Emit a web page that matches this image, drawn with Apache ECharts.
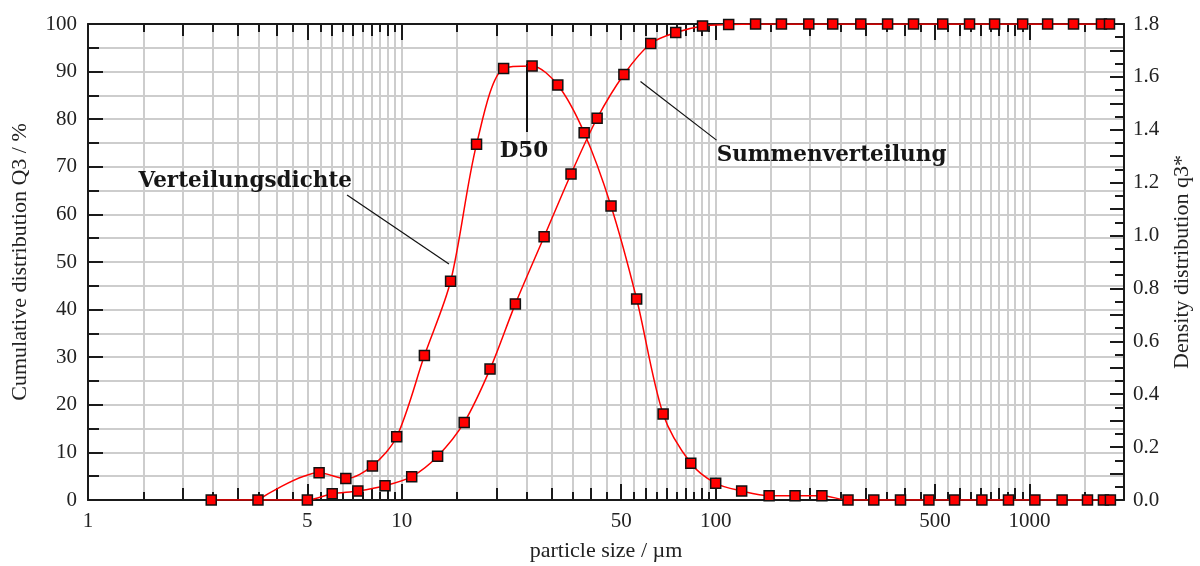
<!DOCTYPE html>
<html>
<head>
<meta charset="utf-8">
<script src="https://cdn.jsdelivr.net/npm/echarts@6/dist/echarts.min.js"></script>
<style>
html,body{margin:0;padding:0;background:#fff;}
#chart{width:1200px;height:566px;}
</style>
</head>
<body>
<div id="chart"></div>
<script>
// ---- data ----
// Cumulative distribution Q3 (%) – "Summenverteilung"
const cumSize = [2.47, 5.0, 6.0, 7.24, 8.84, 10.75, 13.0, 15.8, 19.1, 23.0, 28.4, 34.6, 41.9, 51.0, 62.1, 74.6, 90.8, 110, 134, 162, 198, 236, 290, 353, 427, 529, 644, 774, 951, 1142, 1381, 1695, 1798];
const cumValue = [0, 0, 1.3, 1.9, 3.0, 4.9, 9.2, 16.3, 27.5, 41.2, 55.3, 68.5, 80.2, 89.4, 95.9, 98.2, 99.6, 99.9, 100, 100, 100, 100, 100, 100, 100, 100, 100, 100, 100, 100, 100, 100, 100];
// Density distribution q3* – "Verteilungsdichte"
const densSize = [3.48, 5.45, 6.63, 8.06, 9.63, 11.8, 14.3, 17.3, 21.1, 26.0, 31.4, 38.1, 46.4, 56.0, 68.0, 83.3, 100, 121, 148, 179, 218, 264, 319, 388, 478, 577, 705, 857, 1040, 1270, 1530, 1720, 1810];
const densValue = [0, 0.103, 0.081, 0.129, 0.239, 0.546, 0.827, 1.345, 1.632, 1.641, 1.569, 1.389, 1.112, 0.760, 0.325, 0.139, 0.063, 0.034, 0.016, 0.016, 0.016, 0, 0, 0, 0, 0, 0, 0, 0, 0, 0, 0, 0];

// axis tick values
const xLabelValues = [1, 5, 10, 50, 100, 500, 1000];
const xLongTicks = [1, 5, 10, 50, 100, 500, 1000];
const tickMultipliers = [1, 1.5, 2, 2.5, 3, 3.5, 4, 4.5, 5, 5.5, 6, 6.5, 7, 7.5, 8, 8.5, 9, 9.5];
const tickDecades = [1, 10, 100, 1000];
const xMax = 2000;

// annotations (data coordinates: size, cumulative %)
const annotations = [
  {text: 'Verteilungsdichte', at: [3.17, 67.0]},
  {text: 'D50', at: [24.5, 73.3]},
  {text: 'Summenverteilung', at: [234, 72.3]}
];
const leaderLines = [
  {from: [6.69, 64.1], to: [14.13, 49.6], width: 1.2},
  {from: [25, 91.6], to: [25, 77.3], width: 2},
  {from: [57.6, 87.9], to: [100.6, 75.6], width: 1.2}
];

// ---- build tick sets ----
const allTicks = [], midTicks = [];
tickDecades.forEach(d => tickMultipliers.forEach(m => {
  const v = +(m * d).toPrecision(6);
  if (v <= xMax) {
    allTicks.push(v);
    if (Number.isInteger(m) && m !== 1 && m !== 5) midTicks.push(v);
  }
}));
allTicks.push(xMax);

const serif = 'Liberation Serif';
const gridColor = '#cdcdcd';

function xAxisDef(position, ticks, len, opts) {
  opts = opts || {};
  return {
    type: 'log', logBase: 10, min: 1, max: xMax, position: position,
    axisLine: {show: !!opts.line, lineStyle: {color: '#1a1a1a', width: 2}},
    axisTick: {show: true, inside: true, length: len, customValues: ticks, lineStyle: {color: '#1a1a1a', width: 2}},
    axisLabel: opts.label ? {show: true, customValues: xLabelValues, margin: 11, fontFamily: serif, fontSize: 21, color: '#222',
      formatter: v => String(Math.round(v))} : {show: false},
    splitLine: {show: !!opts.split, lineStyle: {color: gridColor, width: 2}},
    minorTick: {show: false}, minorSplitLine: {show: false},
    name: opts.name || '', nameLocation: 'middle', nameGap: 40,
    nameTextStyle: {fontFamily: serif, fontSize: 22, color: '#222'},
    z: opts.z || 0
  };
}

const chart = echarts.init(document.getElementById('chart'), null, {renderer: 'canvas'});

const sym = {color: '#ff0000', borderColor: '#111', borderWidth: 1.5};

chart.setOption({
  animation: false,
  backgroundColor: '#ffffff',
  grid: {left: 88, right: 76, top: 24, bottom: 66, containLabel: false, outerBoundsMode: 'none'},
  xAxis: [
    xAxisDef('bottom', xLongTicks, 16, {line: true, label: true, name: 'particle size / µm', z: 3}),
    xAxisDef('bottom', allTicks, 8, {split: true}),
    xAxisDef('bottom', midTicks, 12, {}),
    xAxisDef('top', xLongTicks, 16, {line: true}),
    xAxisDef('top', allTicks, 8, {}),
    xAxisDef('top', midTicks, 12, {})
  ],
  yAxis: [
    {
      type: 'value', min: 0, max: 100, interval: 10, position: 'left',
      name: 'Cumulative distribution Q3 / %', nameLocation: 'middle', nameRotate: 90, nameGap: 57,
      nameTextStyle: {fontFamily: serif, fontSize: 22, color: '#222'},
      axisLine: {show: true, lineStyle: {color: '#1a1a1a', width: 2}},
      axisTick: {show: true, inside: true, length: 15, lineStyle: {color: '#1a1a1a', width: 2}},
      minorTick: {show: true, splitNumber: 2, length: 11, lineStyle: {color: '#1a1a1a', width: 2}},
      axisLabel: {margin: 11, fontFamily: serif, fontSize: 21, color: '#222'},
      splitLine: {show: true, lineStyle: {color: gridColor, width: 2}},
      minorSplitLine: {show: true, lineStyle: {color: gridColor, width: 2}}
    },
    {
      type: 'value', min: 0, max: 1.8, interval: 0.1, position: 'right',
      name: 'Density distribution q3*', nameLocation: 'middle', nameRotate: 90, nameGap: 47,
      nameTextStyle: {fontFamily: serif, fontSize: 22, color: '#222'},
      axisLine: {show: true, lineStyle: {color: '#1a1a1a', width: 2}},
      axisTick: {show: true, inside: true, length: 14, lineStyle: {color: '#1a1a1a', width: 2}},
      minorTick: {show: true, splitNumber: 2, length: 9, lineStyle: {color: '#1a1a1a', width: 2}},
      axisLabel: {margin: 9, fontFamily: serif, fontSize: 21, color: '#222',
        formatter: v => (Math.round(v * 10) % 2 === 0 ? v.toFixed(1) : '')},
      splitLine: {show: false}, minorSplitLine: {show: false}
    }
  ],
  series: [
    {
      name: 'Summenverteilung', type: 'line', xAxisIndex: 0, yAxisIndex: 0,
      data: cumSize.map((s, i) => [s, cumValue[i]]),
      smooth: 0.3, symbol: 'rect', symbolSize: 10, showAllSymbol: true,
      lineStyle: {color: '#ff0000', width: 1.5}, itemStyle: sym, z: 5,
      markLine: {
        silent: true, symbol: ['none', 'none'], animation: false,
        label: {show: false},
        data: leaderLines.map(l => [
          {coord: l.from, lineStyle: {color: '#111', width: l.width, type: 'solid'}},
          {coord: l.to}
        ])
      },
      markPoint: {
        silent: true, symbol: 'rect', symbolSize: 1, itemStyle: {color: 'rgba(0,0,0,0)'},
        label: {show: true, position: 'inside', fontFamily: 'DejaVu Serif', fontWeight: 'bold', fontSize: 21.5, color: '#161616'},
        data: annotations.map(a => ({coord: a.at, value: a.text, label: {formatter: a.text}}))
      }
    },
    {
      name: 'Verteilungsdichte', type: 'line', xAxisIndex: 0, yAxisIndex: 1,
      data: densSize.map((s, i) => [s, densValue[i]]),
      smooth: 0.3, symbol: 'rect', symbolSize: 10, showAllSymbol: true,
      lineStyle: {color: '#ff0000', width: 1.5}, itemStyle: sym, z: 5
    }
  ]
});
</script>
</body>
</html>
